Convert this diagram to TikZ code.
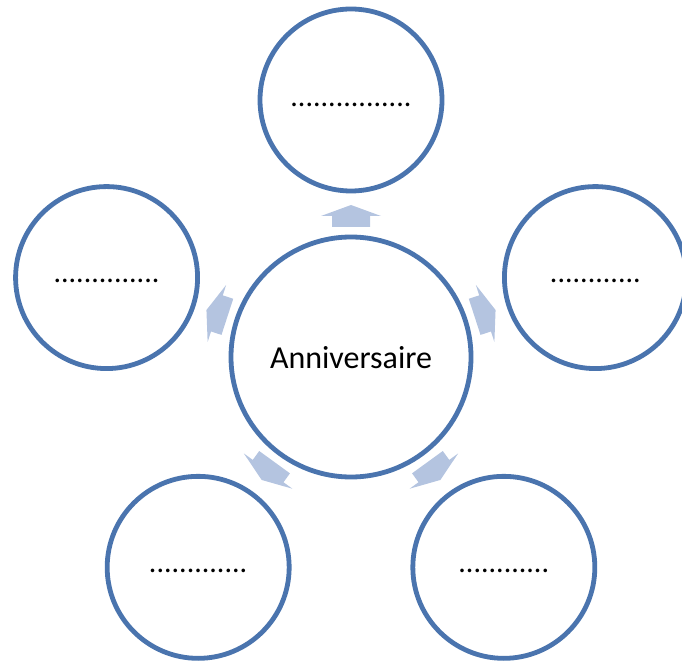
\documentclass[tikz,border=0pt]{standalone}
\usepackage{fontspec}
\setmainfont{Carlito}
\usetikzlibrary{calc}
\definecolor{ringblue}{HTML}{4A74AE}
\definecolor{arrowblue}{HTML}{B4C4E0}
\tikzset{
  ring/.style={circle, draw=ringblue, line width=4.8pt, fill=white, inner sep=0pt},
  hub/.style={ring, minimum size=240pt},
  sat/.style={ring, minimum size=182pt},
  dots/.style={font=\fontsize{30}{36}\selectfont, anchor=base, inner sep=0pt},
  blockarrow/.style={fill=arrowblue, draw=none}
}
\begin{document}
\begin{tikzpicture}[x=1pt,y=1pt]
\useasboundingbox (0,0) rectangle (682,662);
\clip (0,0) rectangle (682,662);
\coordinate (c) at (351,305);
% block arrows
\foreach \a in {90,162,234,306,18}{
  \begin{scope}[shift={(c)}, rotate=\a]
    \fill[blockarrow] (130,-19) -- (141,-19) -- (141,-30) -- (152,0) -- (141,30) -- (141,19) -- (130,19) -- cycle;
  \end{scope}
}
\node[hub] (hub) at (c) {};
\node[sat] (top) at ($(c)+(90:257)$) {};
\node[sat] (left) at ($(c)+(162:257)$) {};
\node[sat] (bl) at ($(c)+(234:260)$) {};
\node[sat] (br) at ($(c)+(306:260)$) {};
\node[sat] (right) at ($(c)+(18:257)$) {};
\node[font=\fontsize{32}{38}\selectfont, anchor=base, inner sep=0pt] (t0) at ($(hub)+(0,-11)$) {Anniversaire};
\node[dots] (t1) at ($(top)+(0,-7)$) {................};
\node[dots] (t2) at ($(left)+(0,-5)$) {..............};
\node[dots] (t3) at ($(right)+(0,-5)$) {............};
\node[dots] (t4) at ($(bl)+(0,-5)$) {.............};
\node[dots] (t5) at ($(br)+(0,-5)$) {............};
\end{tikzpicture}
\end{document}
